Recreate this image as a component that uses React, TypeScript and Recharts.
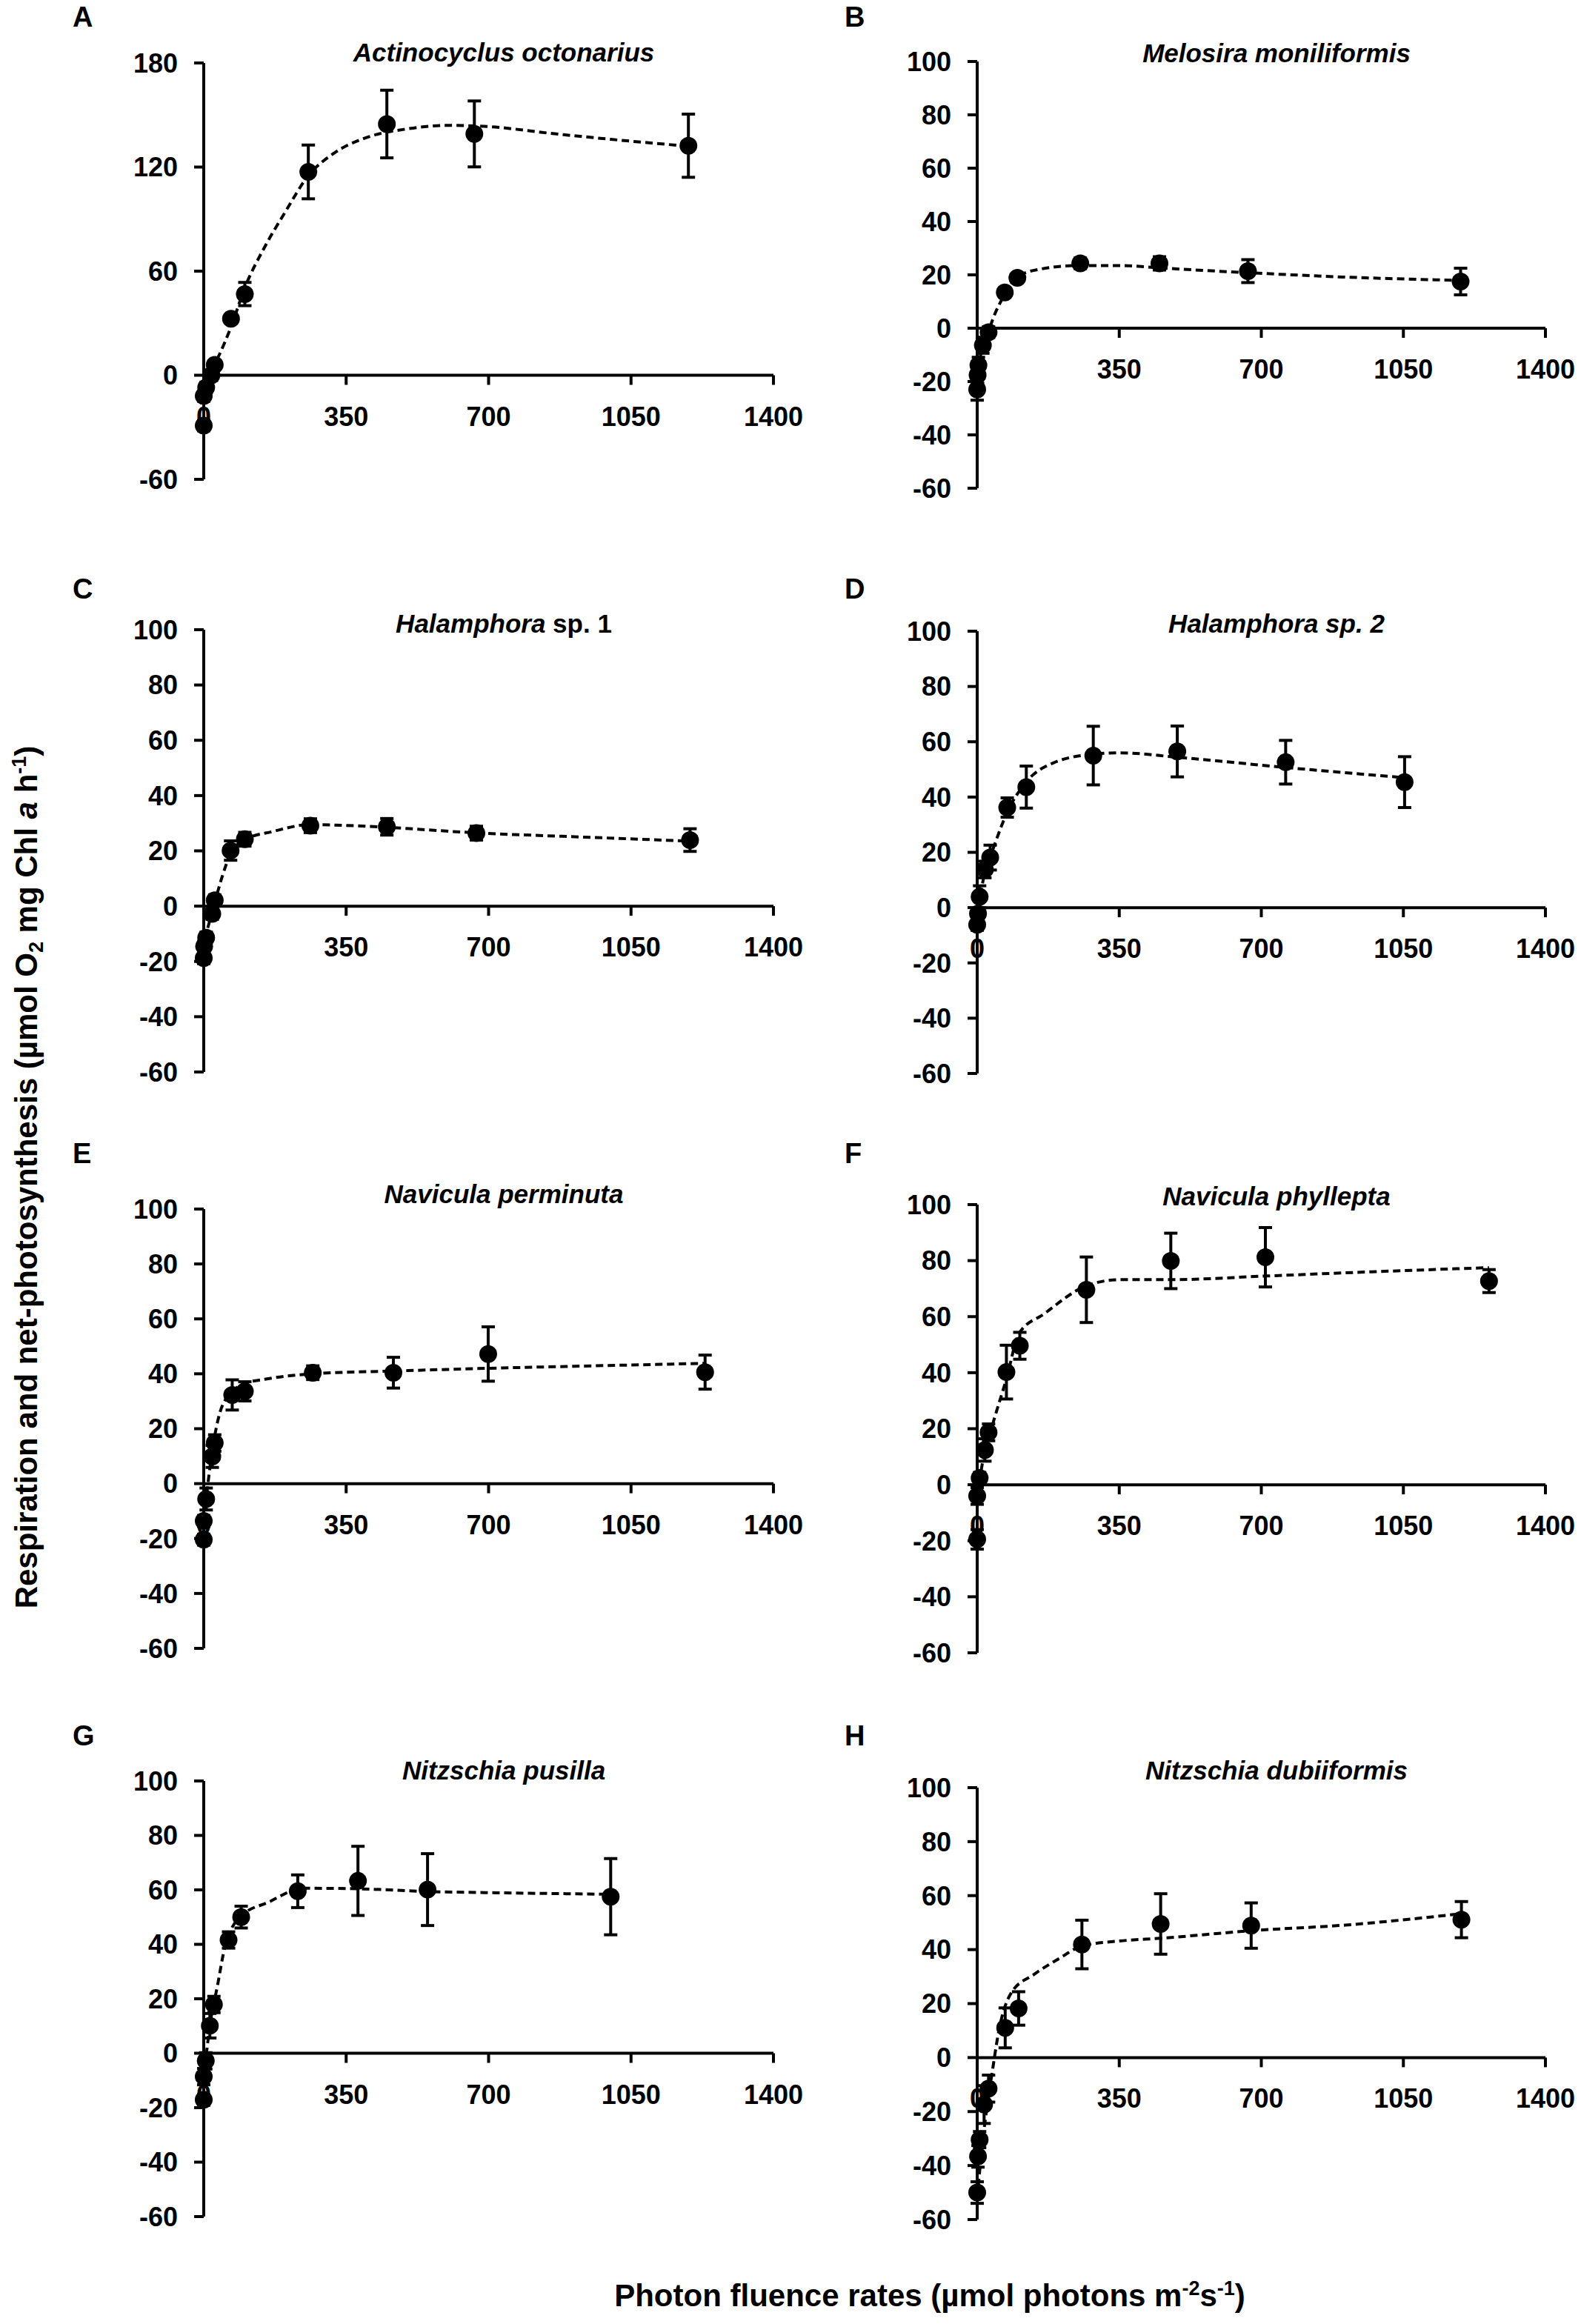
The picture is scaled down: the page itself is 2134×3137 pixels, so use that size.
import React from "react";
import {
  ComposedChart,
  Scatter,
  Line,
  XAxis,
  YAxis,
  ErrorBar,
  ReferenceLine,
  ReferenceDot,
} from "recharts";

const FONT = "'Liberation Sans', Arial, sans-serif";

const xTicks = [0, 350, 700, 1050, 1400];
const yTicksA = [-60, 0, 60, 120, 180];
const yTicks = [-60, -40, -20, 0, 20, 40, 60, 80, 100];

// A — Actinocyclus octonarius
const fluenceA = [0, 0, 6, 19, 27, 67, 101, 257, 450, 665, 1191];
const rateA = [-29, -12, -7, 0, 6, 32.6, 46.8, 117.2, 144.8, 139.1, 132.3];
const sdA = [3, 3, 3, 3, 2, 2, 6.7, 15.5, 19.5, 19, 18.2];
const fitXA = [2, 20, 40, 67, 101, 150, 200, 257, 320, 400, 500, 600, 700, 850, 1000, 1191];
const fitYA = [-10, 3, 12.7, 27.8, 50.5, 74, 94, 115, 128, 137, 142, 144, 143.3, 139.5, 136, 132];

// B — Melosira moniliformis
const fluenceB = [0, 1, 3, 14, 28, 68, 99, 254, 449, 667, 1191];
const rateB = [-23, -17.6, -13.9, -6.4, -1.5, 13.4, 18.9, 24.3, 24.3, 21.4, 17.5];
const sdB = [4, 3, 3, 3, 2, 1.5, 1.5, 2, 2.5, 4.3, 5];
const fitXB = [4, 20, 40, 68, 99, 150, 254, 350, 449, 667, 900, 1191];
const fitYB = [-12, -5, 4, 12.7, 19.2, 22, 23.5, 23.5, 22.6, 20.8, 19.2, 17.9];

// C — Halamphora sp. 1
const fluenceC = [0, 1, 6, 21, 27, 66, 101, 262, 450, 670, 1195];
const rateC = [-18.8, -14.5, -11.4, -2.8, 2.1, 20.1, 24.2, 29.1, 28.7, 26.4, 23.9];
const sdC = [2, 2, 2, 2, 2, 3.5, 2.5, 2.5, 3, 2.5, 4.1];
const fitXC = [2, 21, 46, 66, 101, 170, 262, 350, 450, 670, 930, 1195];
const fitYC = [-12, -2, 11, 19, 24, 27, 29.5, 29.2, 28.5, 26.5, 25, 23.5];

// D — Halamphora sp. 2
const fluenceD = [0, 2, 6, 19, 32, 74, 121, 286, 493, 760, 1053];
const rateD = [-6.2, -2.2, 3.9, 13.8, 18.1, 36.2, 43.6, 55, 56.5, 52.6, 45.4];
const sdD = [2, 2, 4, 3, 4.5, 3.5, 7.6, 10.6, 9.2, 7.9, 9.2];
const fitXD = [0, 16, 41, 74, 121, 190, 286, 351, 493, 760, 1053];
const fitYD = [-4, 11, 22, 34.5, 45.5, 52.5, 55.5, 56, 54.4, 50.7, 47];

// E — Navicula perminuta
const fluenceE = [0, 0, 6, 21, 27, 70, 101, 268, 466, 699, 1232];
const rateE = [-20.4, -13.6, -5.6, 9.9, 14.8, 32.3, 33.6, 40.4, 40.4, 47.2, 40.6];
const sdE = [2, 2, 4, 4, 3, 5.5, 3.5, 2.5, 5.6, 9.9, 6.2];
const fitXE = [4, 21, 40, 70, 101, 150, 268, 466, 699, 990, 1232];
const fitYE = [-8, 12, 26, 33.5, 36.5, 38, 40, 41, 42, 43, 43.8];

// F — Navicula phyllepta
const fluenceF = [0, 0, 6, 19, 28, 72, 105, 269, 477, 710, 1261];
const rateF = [-19.5, -4, 2.4, 12.4, 18.7, 40.2, 49.6, 69.6, 79.9, 81.2, 72.7];
const sdF = [3.5, 3, 2, 4, 3, 9.6, 4.8, 11.7, 9.9, 10.6, 4.1];
const fitXF = [0, 16, 41, 72, 103, 165, 269, 351, 477, 710, 970, 1261];
const fitYF = [-3.4, 10, 23, 37.8, 54, 61, 71, 73.2, 73.2, 74.5, 76, 77.5];

// G — Nitzschia pusilla
const fluenceG = [0, 0, 5, 15, 25, 61, 92, 231, 379, 550, 1000];
const rateG = [-17.1, -8.6, -2.8, 10.1, 17.9, 41.6, 50, 59.5, 63.3, 60.1, 57.5];
const sdG = [2, 3, 3, 4.5, 3, 3, 4, 6, 12.7, 13.2, 14];
const fitXG = [3, 15, 34, 52, 92, 158, 245, 379, 550, 741, 1000];
const fitYG = [-5, 10, 25, 39, 50.4, 55.4, 60.6, 60.4, 59.4, 58.9, 58.4];

// H — Nitzschia dubiiformis
const fluenceH = [0, 2, 6, 17, 28, 69, 102, 258, 452, 675, 1193];
const rateH = [-50, -36.6, -30.4, -17.4, -11.5, 11, 18.2, 41.9, 49.5, 48.9, 51.1];
const sdH = [4, 4, 3, 7, 5, 7.4, 6.2, 9, 11.2, 8.4, 6.7];
const fitXH = [0, 10, 22, 37, 53, 84, 140, 202, 258, 351, 452, 675, 908, 1193];
const fitYH = [-52, -36, -20.6, -5.4, 9.7, 24, 30.8, 36.7, 41.3, 43.2, 44.2, 47, 49.1, 53.3];

type PanelProps = {
  fluence: number[];
  rate: number[];
  sd: number[];
  fitX: number[];
  fitY: number[];
  ticks: number[];
  left: number;
  top: number;
  right: number;
  bottom: number;
};

const tickStyle = { fill: "#000", fontSize: 36, fontWeight: 700, fontFamily: FONT };

function xTickShape(label: number) {
  return (p: any) => (
    <g>
      <line x1={p.cx} y1={p.cy} x2={p.cx} y2={p.cy + 13} stroke="#000" strokeWidth={4} />
      <text
        x={p.cx}
        y={p.cy + 68}
        textAnchor="middle"
        fill="#000"
        fontSize={36}
        fontWeight={700}
        fontFamily={FONT}
      >
        {label}
      </text>
    </g>
  );
}

const dotShape = (p: any) => <circle cx={p.cx} cy={p.cy} r={12} fill="#000" />;

function Panel(props: PanelProps) {
  const { fluence, rate, sd, fitX, fitY, ticks, left, top, right, bottom } = props;
  const points = fluence.map((x, i) => ({ x, y: rate[i], err: sd[i] }));
  const fit = fitX.map((x, i) => ({ x, y: fitY[i] }));
  const w = right - left + 150 + 60;
  const h = bottom - top + 40;
  return (
    <div style={{ position: "absolute", left: left - 150, top: top - 20 }}>
      <ComposedChart width={w} height={h} margin={{ top: 20, right: 60, bottom: 20, left: 0 }}>
        <XAxis type="number" dataKey="x" domain={[0, 1400]} hide />
        <YAxis
          type="number"
          dataKey="y"
          domain={[ticks[0], ticks[ticks.length - 1]]}
          ticks={ticks}
          interval={0}
          width={150}
          axisLine={{ stroke: "#000", strokeWidth: 4 }}
          tickLine={{ stroke: "#000", strokeWidth: 4 }}
          tickSize={13}
          tickMargin={22}
          tick={tickStyle}
        />
        <ReferenceLine y={0} stroke="#000" strokeWidth={4} />
        {xTicks.map((t) => (
          <ReferenceDot key={t} x={t} y={0} shape={xTickShape(t)} />
        ))}
        <Line
          data={fit}
          dataKey="y"
          type="monotone"
          stroke="#000"
          strokeWidth={4}
          strokeDasharray="10 6"
          dot={false}
          activeDot={false}
          isAnimationActive={false}
        />
        <Scatter data={points} dataKey="y" shape={dotShape} isAnimationActive={false}>
          <ErrorBar dataKey="err" direction="y" width={9} strokeWidth={4} stroke="#000" />
        </Scatter>
      </ComposedChart>
    </div>
  );
}

const L1 = 275, R1 = 1044, L2 = 1319, R2 = 2086;

export default function App() {
  const txt = { fill: "#000", fontWeight: 700, fontFamily: FONT } as const;
  return (
    <div style={{ position: "relative", width: 2134, height: 3137, background: "#fff" }}>
      <style>{"body{margin:0}"}</style>
      <Panel fluence={fluenceA} rate={rateA} sd={sdA} fitX={fitXA} fitY={fitYA} ticks={yTicksA} left={L1} right={R1} top={85} bottom={647} />
      <Panel fluence={fluenceB} rate={rateB} sd={sdB} fitX={fitXB} fitY={fitYB} ticks={yTicks} left={L2} right={R2} top={83} bottom={659} />
      <Panel fluence={fluenceC} rate={rateC} sd={sdC} fitX={fitXC} fitY={fitYC} ticks={yTicks} left={L1} right={R1} top={850} bottom={1447} />
      <Panel fluence={fluenceD} rate={rateD} sd={sdD} fitX={fitXD} fitY={fitYD} ticks={yTicks} left={L2} right={R2} top={852} bottom={1449} />
      <Panel fluence={fluenceE} rate={rateE} sd={sdE} fitX={fitXE} fitY={fitYE} ticks={yTicks} left={L1} right={R1} top={1632} bottom={2225} />
      <Panel fluence={fluenceF} rate={rateF} sd={sdF} fitX={fitXF} fitY={fitYF} ticks={yTicks} left={L2} right={R2} top={1626} bottom={2231} />
      <Panel fluence={fluenceG} rate={rateG} sd={sdG} fitX={fitXG} fitY={fitYG} ticks={yTicks} left={L1} right={R1} top={2404} bottom={2992} />
      <Panel fluence={fluenceH} rate={rateH} sd={sdH} fitX={fitXH} fitY={fitYH} ticks={yTicks} left={L2} right={R2} top={2413} bottom={2996} />

      <svg
        width={2134}
        height={3137}
        style={{ position: "absolute", left: 0, top: 0, pointerEvents: "none" }}
      >
        {/* panel letters */}
        <g fontSize={38} {...txt}>
          <text x={98} y={36}>A</text>
          <text x={1140} y={36}>B</text>
          <text x={98} y={808}>C</text>
          <text x={1140} y={808}>D</text>
          <text x={98} y={1570}>E</text>
          <text x={1140} y={1570}>F</text>
          <text x={98} y={2356}>G</text>
          <text x={1140} y={2356}>H</text>
        </g>

        {/* species titles */}
        <g fontSize={35} textAnchor="middle" {...txt}>
          <text x={680} y={83} fontStyle="italic">Actinocyclus octonarius</text>
          <text x={1723} y={84} fontStyle="italic">Melosira moniliformis</text>
          <text x={680} y={854}>
            <tspan fontStyle="italic">Halamphora</tspan> sp. 1
          </text>
          <text x={1723} y={854} fontStyle="italic">Halamphora sp. 2</text>
          <text x={680} y={1624} fontStyle="italic">Navicula perminuta</text>
          <text x={1723} y={1627} fontStyle="italic">Navicula phyllepta</text>
          <text x={680} y={2402} fontStyle="italic">Nitzschia pusilla</text>
          <text x={1723} y={2402} fontStyle="italic">Nitzschia dubiiformis</text>
        </g>

        {/* axis titles */}
        <text x={1255} y={3113} fontSize={42} textAnchor="middle" {...txt}>
          Photon fluence rates (µmol photons m
          <tspan fontSize={27} dy={-15}>-2</tspan>
          <tspan dy={15}>s</tspan>
          <tspan fontSize={27} dy={-15}>-1</tspan>
          <tspan dy={15}>)</tspan>
        </text>
        <text
          transform="translate(50,1589) rotate(-90)"
          x={0}
          y={0}
          fontSize={42}
          textAnchor="middle"
          {...txt}
        >
          Respiration and net-photosynthesis (µmol O
          <tspan fontSize={27} dy={8}>2</tspan>
          <tspan dy={-8}> mg Chl </tspan>
          <tspan fontStyle="italic">a</tspan>
          <tspan> h</tspan>
          <tspan fontSize={27} dy={-15}>-1</tspan>
          <tspan dy={15}>)</tspan>
        </text>
      </svg>
    </div>
  );
}
